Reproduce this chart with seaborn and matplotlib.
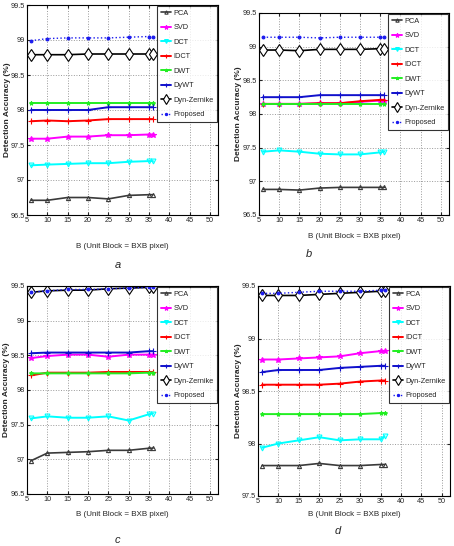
import matplotlib
matplotlib.use("Agg")
import matplotlib.pyplot as plt
import seaborn as sns
from matplotlib.ticker import FormatStrFormatter, MultipleLocator

sns.set_style("ticks")
plt.rcParams['font.family'] = ['Liberation Sans Narrow', 'Liberation Sans', 'DejaVu Sans']

# ---------------- data ----------------
block_sizes = [6, 10, 15, 20, 25, 30, 35, 36]
methods = ["PCA", "SVD", "DCT", "IDCT", "DWT", "DyWT", "Dyn-Zernike", "Proposed"]

a_pca = [96.71, 96.71, 96.75, 96.75, 96.73, 96.78, 96.79, 96.79]
a_svd = [97.59, 97.59, 97.62, 97.62, 97.64, 97.64, 97.65, 97.65]
a_dct = [97.21, 97.22, 97.23, 97.24, 97.24, 97.26, 97.27, 97.27]
a_idct = [97.84, 97.85, 97.84, 97.85, 97.87, 97.87, 97.87, 97.87]
a_dwt = [98.10, 98.10, 98.10, 98.10, 98.10, 98.10, 98.10, 98.10]
a_dywt = [98.00, 98.00, 98.00, 98.00, 98.04, 98.04, 98.04, 98.04]
a_dynz = [98.79, 98.79, 98.79, 98.80, 98.80, 98.80, 98.80, 98.80]
a_prop = [98.99, 99.02, 99.03, 99.03, 99.03, 99.04, 99.05, 99.05]

b_pca = [96.88, 96.88, 96.87, 96.90, 96.91, 96.91, 96.91, 96.91]
b_svd = [98.15, 98.15, 98.15, 98.16, 98.16, 98.18, 98.20, 98.20]
b_dct = [97.44, 97.46, 97.44, 97.41, 97.40, 97.40, 97.43, 97.44]
b_idct = [98.15, 98.15, 98.15, 98.16, 98.16, 98.19, 98.21, 98.21]
b_dwt = [98.15, 98.15, 98.15, 98.15, 98.15, 98.15, 98.15, 98.15]
b_dywt = [98.25, 98.25, 98.25, 98.28, 98.28, 98.28, 98.28, 98.28]
b_dynz = [98.95, 98.95, 98.94, 98.96, 98.96, 98.96, 98.97, 98.97]
b_prop = [99.14, 99.14, 99.14, 99.13, 99.14, 99.14, 99.14, 99.14]

c_pca = [96.98, 97.09, 97.10, 97.11, 97.13, 97.13, 97.16, 97.16]
c_svd = [98.46, 98.49, 98.51, 98.51, 98.48, 98.51, 98.51, 98.51]
c_dct = [97.59, 97.62, 97.60, 97.60, 97.62, 97.56, 97.65, 97.66]
c_idct = [98.21, 98.25, 98.25, 98.25, 98.26, 98.26, 98.26, 98.26]
c_dwt = [98.24, 98.24, 98.24, 98.24, 98.24, 98.24, 98.25, 98.25]
c_dywt = [98.53, 98.54, 98.54, 98.54, 98.54, 98.54, 98.56, 98.56]
c_dynz = [99.41, 99.43, 99.44, 99.44, 99.46, 99.47, 99.48, 99.48]
c_prop = [99.41, 99.43, 99.45, 99.45, 99.46, 99.47, 99.48, 99.48]

d_pca = [97.79, 97.79, 97.79, 97.81, 97.79, 97.79, 97.80, 97.80]
d_svd = [98.80, 98.80, 98.81, 98.82, 98.83, 98.86, 98.88, 98.88]
d_dct = [97.96, 98.00, 98.03, 98.06, 98.03, 98.04, 98.04, 98.07]
d_idct = [98.56, 98.56, 98.56, 98.56, 98.57, 98.59, 98.60, 98.60]
d_dwt = [98.28, 98.28, 98.28, 98.28, 98.28, 98.28, 98.29, 98.29]
d_dywt = [98.68, 98.70, 98.70, 98.70, 98.72, 98.73, 98.74, 98.74]
d_dynz = [99.41, 99.41, 99.41, 99.42, 99.43, 99.44, 99.45, 99.45]
d_prop = [99.43, 99.43, 99.44, 99.45, 99.45, 99.45, 99.46, 99.46]

x_ticks = [5, 10, 15, 20, 25, 30, 35, 40, 45, 50]
panel_letters = ["a", "b", "c", "d"]
x_label = "B (Unit Block = BXB pixel)"
y_label = "Detection Accuracy (%)"

# ---------------- styles ----------------
styles = {
    "PCA": dict(color="#3a3a3a", marker="^", ms=3, lw=1.2, ls="-", mfc="none"),
    "SVD": dict(color="#ff00ff", marker="*", ms=4, lw=1.4, ls="-"),
    "DCT": dict(color="#00ffff", marker="v", ms=3.5, lw=1.4, ls="-", mfc="none"),
    "IDCT": dict(color="#ff0000", marker="+", ms=4, lw=1.4, ls="-"),
    "DWT": dict(color="#22ee22", marker="*", ms=3, lw=1.4, ls="-"),
    "DyWT": dict(color="#1010cc", marker="+", ms=4, lw=1.4, ls="-"),
    "Dyn-Zernike": dict(color="black", marker="d", ms=6, lw=1.2, ls="-", mfc="white"),
    "Proposed": dict(color="#1a1aee", marker=".", ms=4, lw=1.0, ls=":"),
}

panels = [
    dict(data=[a_pca, a_svd, a_dct, a_idct, a_dwt, a_dywt, a_dynz, a_prop],
         rect=[27, 5, 218, 215], ylim=(96.5, 99.5), xlab_off=32, ylab_x=8,
         letter_xy=(118, 265)),
    dict(data=[b_pca, b_svd, b_dct, b_idct, b_dwt, b_dywt, b_dynz, b_prop],
         rect=[259, 13, 449, 215], ylim=(96.5, 99.5), xlab_off=22, ylab_x=239,
         letter_xy=(309, 254)),
    dict(data=[c_pca, c_svd, c_dct, c_idct, c_dwt, c_dywt, c_dynz, c_prop],
         rect=[27, 286, 218, 494], ylim=(96.5, 99.5), xlab_off=20, ylab_x=7,
         letter_xy=(117, 540)),
    dict(data=[d_pca, d_svd, d_dct, d_idct, d_dwt, d_dywt, d_dynz, d_prop],
         rect=[258, 286, 450, 496], ylim=(97.5, 99.5), xlab_off=18, ylab_x=238,
         letter_xy=(338, 531)),
]

W, H = 454, 546
fig = plt.figure(figsize=(W / 100, H / 100), dpi=100)

for i, p in enumerate(panels):
    l, t, r, b = p["rect"]
    ax = fig.add_axes([l / W, 1 - b / H, (r - l) / W, (b - t) / H])
    for name, vals in zip(methods, p["data"]):
        st = styles[name]
        sns.lineplot(x=block_sizes, y=vals, ax=ax, label=name, color=st["color"],
                     marker=st["marker"], markersize=st["ms"], linewidth=st["lw"],
                     linestyle=st["ls"], markerfacecolor=st.get("mfc", st["color"]),
                     markeredgecolor=st["color"], markeredgewidth=0.8, sort=False)
    ax.set_xlim(5, 52)
    ax.set_ylim(*p["ylim"])
    ax.set_xticks(x_ticks)
    ax.yaxis.set_major_locator(MultipleLocator(0.5))
    ax.yaxis.set_major_formatter(FormatStrFormatter("%g"))
    ax.grid(True, linestyle=":", color="#999999", linewidth=0.7)
    ax.tick_params(direction="in", length=2, labelsize=5.2, pad=1.5,
                   top=True, right=True)
    for s in ax.spines.values():
        s.set_linewidth(0.8)
        s.set_color("black")
    ax.set_xlabel(x_label, fontsize=5.8)
    ax.set_ylabel(y_label, fontsize=6, fontweight="bold")
    h_ax = b - t
    w_ax = r - l
    ax.xaxis.set_label_coords(0.5, -p["xlab_off"] / h_ax)
    ax.xaxis.label.set_va("center")
    ax.yaxis.set_label_coords((p["ylab_x"] - l) / w_ax, 0.5)
    ax.yaxis.label.set_va("center")
    leg = ax.legend(loc="upper right", bbox_to_anchor=(1.0, 1.0), borderaxespad=0.1,
                    fontsize=5.3, frameon=True, fancybox=False, handlelength=1.4,
                    handletextpad=0.3, labelspacing=1.0, borderpad=0.5,
                    markerscale=0.8)
    leg.get_frame().set_edgecolor("black")
    leg.get_frame().set_linewidth(0.8)
    lx, ly = p["letter_xy"]
    fig.text(lx / W, 1 - ly / H, panel_letters[i], fontsize=8, style="italic",
             ha="center", va="center")

fig.savefig("out.png", dpi=100)
